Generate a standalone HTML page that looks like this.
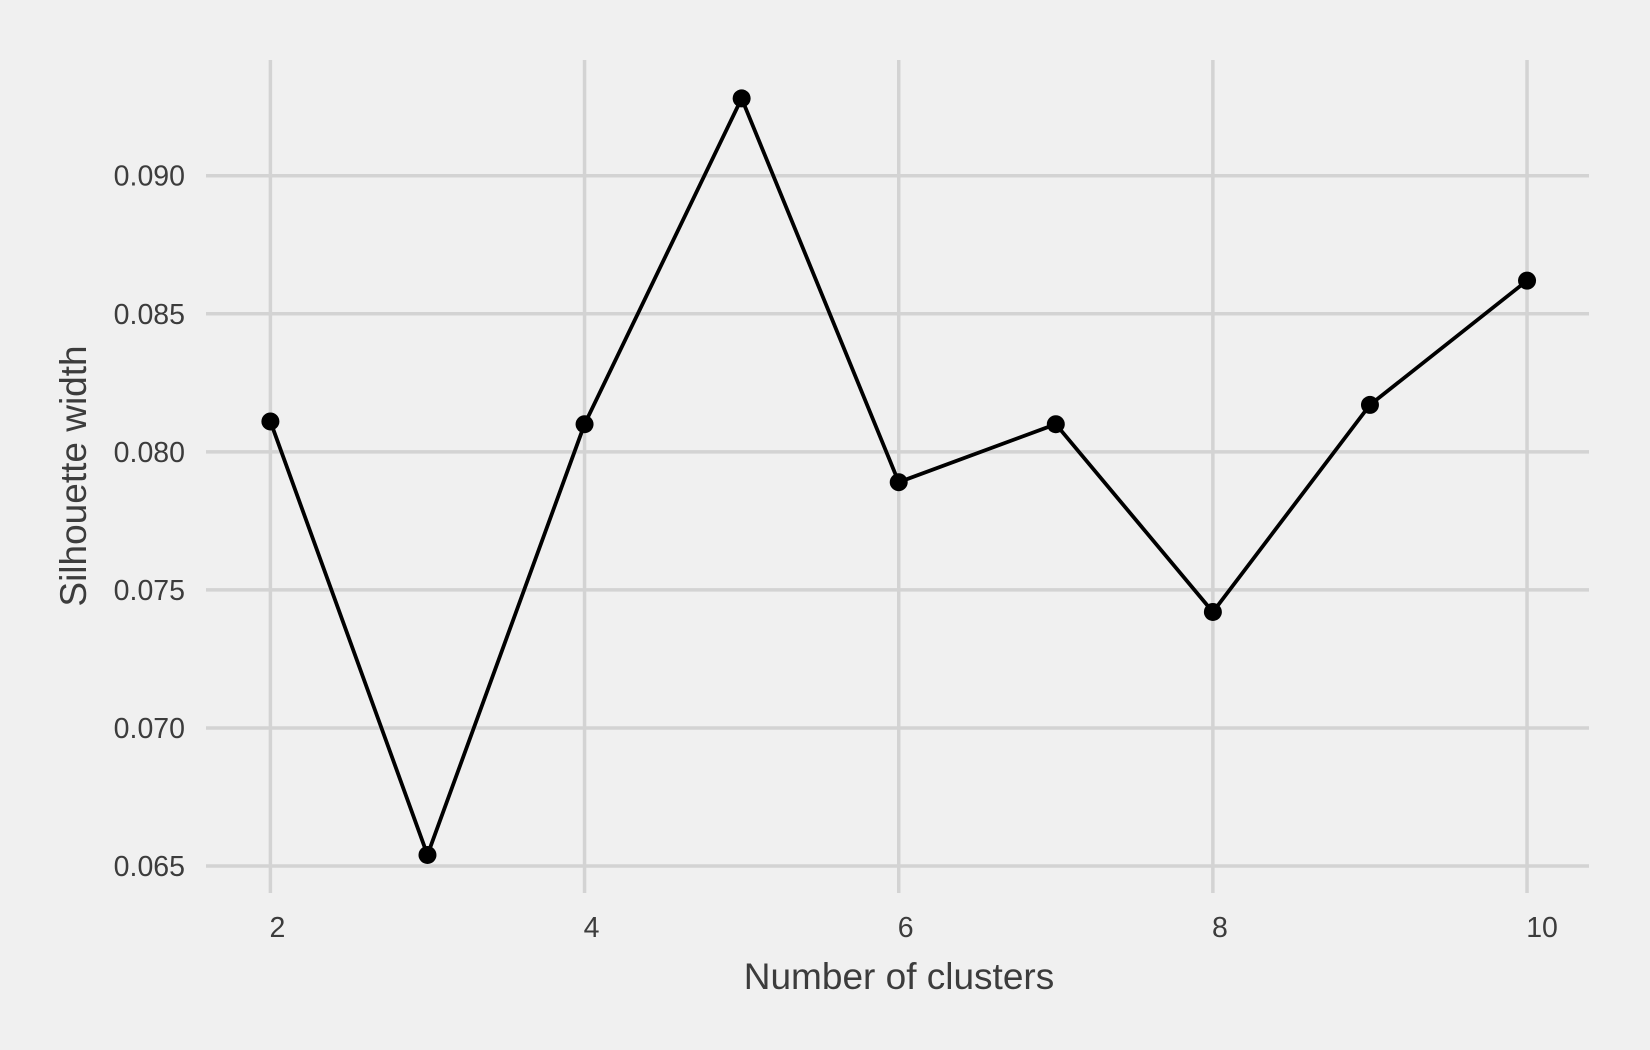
<!DOCTYPE html>
<html><head><meta charset="utf-8"><style>
body{margin:0;background:#f0f0f0;}
svg{display:block;font-family:"Liberation Sans",Arial,sans-serif;}
</style></head><body>
<svg id="chart" width="1650" height="1050" viewBox="0 0 1650 1050">
<rect width="1650" height="1050" fill="#f0f0f0"/>
<g id="grid"></g><g id="marks"></g><g id="labels"></g>
<text x="899" y="989" text-anchor="middle" font-size="37" fill="#3c3c3c">Number of clusters</text>
<text transform="translate(86,476) rotate(-90)" text-anchor="middle" font-size="37" fill="#3c3c3c">Silhouette width</text>
</svg>
<script>
const clusters=[2,3,4,5,6,7,8,9,10];
const silhouette=[0.0811,0.0654,0.0810,0.0928,0.0789,0.0810,0.0742,0.0817,0.0862];
const xTicks=[2,4,6,8,10];
const yTicks=[0.065,0.070,0.075,0.080,0.085,0.090];
const yTickLabels=["0.065","0.070","0.075","0.080","0.085","0.090"];
const NS="http://www.w3.org/2000/svg";
const xs=v=>270.4+(v-2)*157.08;
const ys=v=>866-(v-0.065)/0.005*138.06;
function mk(t,a,p){const e=document.createElementNS(NS,t);for(const k in a)e.setAttribute(k,a[k]);p.appendChild(e);return e;}
const grid=document.getElementById('grid'),marks=document.getElementById('marks'),labels=document.getElementById('labels');
yTicks.forEach((v,i)=>{
 const l=mk('line',{x1:206,x2:1589,y1:ys(v),y2:ys(v),stroke:'#d3d3d3','stroke-width':3.5},grid);
 
 
 const t=mk('text',{x:185,y:ys(v)+10,'text-anchor':'end','font-size':28.5,fill:'#3c3c3c'},labels);
 t.textContent=yTickLabels[i];
 
 
});
xTicks.forEach(v=>{
 const l=mk('line',{x1:xs(v),x2:xs(v),y1:60,y2:893,stroke:'#d3d3d3','stroke-width':3.5},grid);
 
 
 const t=mk('text',{x:xs(v)+7+(v>=10?8:0),y:937,'text-anchor':'middle','font-size':28.5,fill:'#3c3c3c'},labels);
 t.textContent=String(v);
 
 
});
const pts=clusters.map((c,i)=>xs(c)+','+ys(silhouette[i])).join(' ');
const pl=mk('polyline',{points:pts,fill:'none',stroke:'#000','stroke-width':3.8,'stroke-linejoin':'round'},marks);


clusters.forEach((c,i)=>{
 const d=mk('circle',{cx:xs(c),cy:ys(silhouette[i]),r:9,fill:'#000'},marks);
 
 
});
</script>
</body></html>
